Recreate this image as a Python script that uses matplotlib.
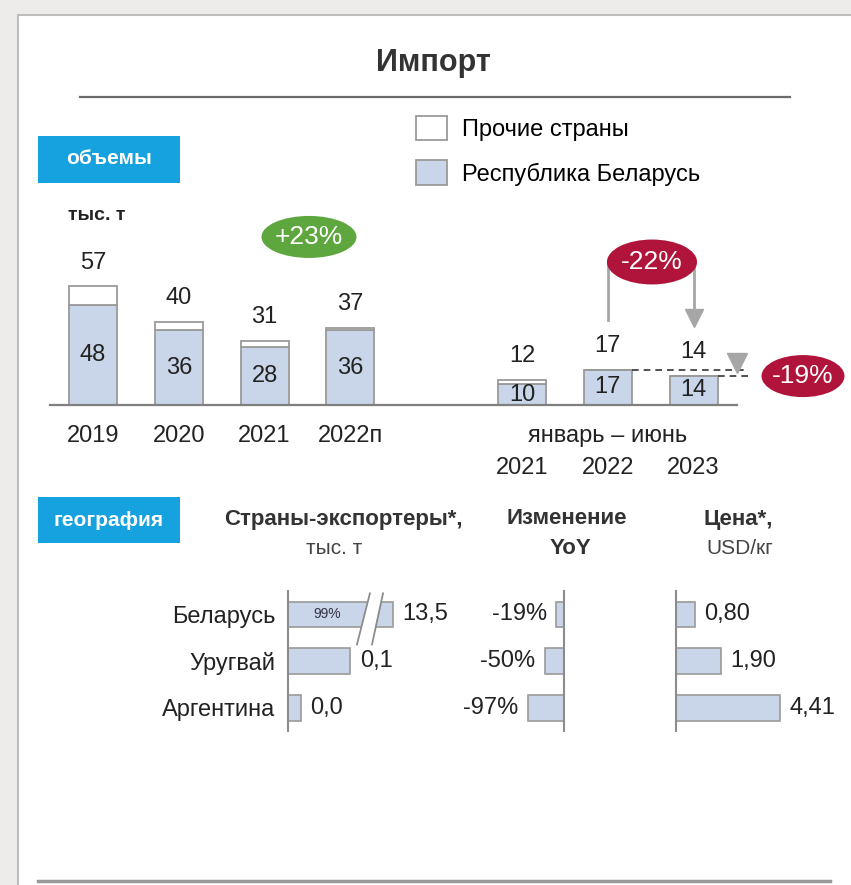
### Импорт: объемы и география
import matplotlib
matplotlib.use("Agg")
import matplotlib.pyplot as plt
from matplotlib.patches import Rectangle, Ellipse, Polygon

plt.rcParams['font.family'] = ['Liberation Sans', 'DejaVu Sans']

# Data
years = ["2019", "2020", "2021", "2022п"]
hy_years = ["2021", "2022", "2023"]
total = [57, 40, 31, 37, 12, 17, 14]
belarus = [48, 36, 28, 36, 10, 17, 14]
others = [t - b for t, b in zip(total, belarus)]
xpos = [0, 1, 2, 3, 5, 6, 7]

countries = ["Беларусь", "Уругвай", "Аргентина"]
vol_labels = ["13,5", "0,1", "0,0"]
# bar lengths as drawn in the source (not to scale, Беларусь axis is broken)
vol_drawn = [1.0, 0.59, 0.12]
yoy = [-19, -50, -97]
price = [0.80, 1.90, 4.41]
price_labels = ["0,80", "1,90", "4,41"]

BAR = "#C9D5E8"
EDGE = "#9A9A9A"
BLUE = "#16A2DE"
RED = "#B0143B"
GREEN = "#5EA63E"
TXT = "#222222"

W, H = 851, 885
fig = plt.figure(figsize=(W / 100, H / 100), dpi=100, facecolor="#EEEBEB")


def rect(l, t, r, b):
    # pixel box -> figure fraction
    return [l / W, 1 - b / H, (r - l) / W, (b - t) / H]


# Overlay in pixel coords for panel and headings
ov = fig.add_axes([0, 0, 1, 1], zorder=0)
ov.set_xlim(0, W)
ov.set_ylim(H, 0)
ov.axis("off")
ov.add_patch(Rectangle((18, 15), W, H, facecolor="white", edgecolor="#BDBDBD", lw=1.5))
ov.text(433, 63, "Импорт", ha="center", va="center", fontsize=22, weight="bold", color="#333333")
ov.plot([80, 790], [97, 97], color="#6B6B6B", lw=1.6)
ov.plot([38, 830], [881, 881], color="#9A9A9A", lw=2.5)

ov.add_patch(Rectangle((38, 136), 142, 47, facecolor=BLUE))
ov.text(109, 159, "объемы", ha="center", va="center", fontsize=15, weight="bold", color="white")
ov.add_patch(Rectangle((38, 497), 142, 46, facecolor=BLUE))
ov.text(109, 520, "география", ha="center", va="center", fontsize=15, weight="bold", color="white")
ov.text(68, 215, "тыс. т", ha="left", va="center", fontsize=14, weight="bold", color=TXT)

ov.text(343, 519, "Страны-экспортеры*,", ha="center", va="center", fontsize=16, weight="bold", color="#333333")
ov.text(334, 549, "тыс. т", ha="center", va="center", fontsize=15, color="#444444")
ov.text(567, 519, "Изменение", ha="center", va="center", fontsize=16, weight="bold", color="#333333")
ov.text(570, 549, "YoY", ha="center", va="center", fontsize=16, weight="bold", color="#333333")
ov.text(773, 519, "Цена*,", ha="right", va="center", fontsize=16, weight="bold", color="#333333")
ov.text(773, 549, "USD/кг", ha="right", va="center", fontsize=15, color="#444444")

# --- volumes bar chart ---
px_unit = 2.08
ax = fig.add_axes(rect(50.1, 200, 736.5, 405), zorder=2)
ax.patch.set_alpha(0)
ax.set_xlim(-0.5, 7.5)
ax.set_ylim(0, 205 / px_unit)
b_by = ax.bar(xpos, belarus, width=0.56, color=BAR, edgecolor=EDGE, lw=1.3)
b_ot = ax.bar(xpos, others, bottom=belarus, width=0.56, color="white", edgecolor=EDGE, lw=1.3)
for s in ["top", "right", "left"]:
    ax.spines[s].set_visible(False)
ax.spines["bottom"].set_color("#7F7F7F")
ax.spines["bottom"].set_linewidth(1.6)
ax.set_yticks([])
ax.set_xticks([])

for x, t, b in zip(xpos, total, belarus):
    ax.annotate(str(t), (x, t), xytext=(0, 17), textcoords="offset points",
                ha="center", va="center", fontsize=17, color=TXT)
    ax.text(x, b / 2, str(b), ha="center", va="center", fontsize=17, color=TXT)

for x, lab in zip(xpos[:4], years):
    ax.annotate(lab, (x, 0), xytext=(0, -22), textcoords="offset points",
                ha="center", va="center", fontsize=17, color=TXT)
ax.annotate("январь – июнь", (6, 0), xytext=(0, -22), textcoords="offset points",
            ha="center", va="center", fontsize=17, color=TXT)
for x, lab in zip(xpos[4:], hy_years):
    ax.annotate(lab, (x, 0), xytext=(0, -45), textcoords="offset points",
                ha="center", va="center", fontsize=17, color=TXT)

# -22% arrow from 2022 to 2023 (Jan-Jun)
ax.plot([6, 6, 7, 7], [total[5] + 24, 68.75, 68.75, 44], color="#A6A6A6", lw=2, clip_on=False)
ax.plot([7], [41.6], marker="v", ms=13, color="#A6A6A6", clip_on=False)

# dashed level lines and marker for -19%
ax.hlines(total[5], 6.28, 7.63, colors="#333333", lw=1.2, linestyles=(0, (4, 3)), clip_on=False)
ax.hlines(total[6], 7.28, 7.63, colors="#333333", lw=1.2, linestyles=(0, (4, 3)), clip_on=False)
ax.plot([7.51], [20.4], marker="v", ms=15, color="#A6A6A6", clip_on=False)

badges = [(2.517, 80.8, 1.107, 20.2, GREEN, "+23%"),
          (6.515, 68.75, 1.05, 21.6, RED, "-22%"),
          (8.275, 13.9, 0.967, 20.2, RED, "-19%")]
for bx, by, bw, bh, col, lab in badges:
    ax.add_patch(Ellipse((bx, by), bw, bh, facecolor=col, edgecolor="none", clip_on=False, zorder=5))
    ax.text(bx, by, lab, ha="center", va="center", fontsize=19, color="white", zorder=6)

fig.legend(handles=[b_ot, b_by], labels=["Прочие страны", "Республика Беларусь"],
           loc="upper left", bbox_to_anchor=(416 / W, 1 - 116 / H), frameon=False,
           fontsize=17, handlelength=1.31, handleheight=1.2, handletextpad=0.64,
           labelspacing=0.82, borderpad=0, borderaxespad=0)

# --- geography bars ---
rows = [0, 1, 2]
bh = 0.55


def style_h(a, side):
    for s in ["top", "right", "left", "bottom"]:
        a.spines[s].set_visible(False)
    a.spines[side].set_visible(True)
    a.spines[side].set_color("#8C8C8C")
    a.spines[side].set_linewidth(1.5)
    a.set_xticks([])
    a.set_ylim(2.5, -0.5)
    a.patch.set_alpha(0)


# exporters
a1 = fig.add_axes(rect(288, 591, 438, 731), zorder=2)
a1.barh(rows, vol_drawn, height=bh, color=BAR, edgecolor=EDGE, lw=1.2)
a1.set_xlim(0, 150 / 105)
style_h(a1, "left")
a1.set_yticks(rows)
a1.set_yticklabels(countries, fontsize=17, color=TXT)
a1.tick_params(axis="y", length=0, pad=9)
for r, v, lab in zip(rows, vol_drawn, vol_labels):
    a1.annotate(lab, (v, r), xytext=(7, 0), textcoords="offset points",
                ha="left", va="center", fontsize=17, color=TXT)
a1.text(0.37, 0, "99%", ha="center", va="center", fontsize=10, color="#333344")
brk = Polygon([(0.78, -0.45), (0.905, -0.45), (0.80, 0.645), (0.657, 0.645)],
              closed=True, facecolor="white", edgecolor="none", clip_on=False, zorder=3)
a1.add_patch(brk)
a1.plot([0.78, 0.657], [-0.45, 0.645], color="#8C8C8C", lw=1.3, clip_on=False, zorder=4)
a1.plot([0.905, 0.80], [-0.45, 0.645], color="#8C8C8C", lw=1.3, clip_on=False, zorder=4)

# YoY change
px_pct = 0.37
a2 = fig.add_axes(rect(480, 591, 563.5, 731), zorder=2)
a2.barh(rows, yoy, height=bh, color=BAR, edgecolor=EDGE, lw=1.2)
a2.set_xlim(-83.5 / px_pct, 0)
style_h(a2, "right")
a2.set_yticks([])
for r, v in zip(rows, yoy):
    a2.annotate(f"{v}%", (v, r), xytext=(-7, 0), textcoords="offset points",
                ha="right", va="center", fontsize=17, color=TXT)

# price
a3 = fig.add_axes(rect(676, 591, 796, 731), zorder=2)
a3.barh(rows, price, height=bh, color=BAR, edgecolor=EDGE, lw=1.2)
a3.set_xlim(0, 120 / 23.6)
style_h(a3, "left")
a3.set_yticks([])
for r, v, lab in zip(rows, price, price_labels):
    a3.annotate(lab, (v, r), xytext=(7, 0), textcoords="offset points",
                ha="left", va="center", fontsize=17, color=TXT)

fig.savefig("out.png", dpi=100, facecolor=fig.get_facecolor())
